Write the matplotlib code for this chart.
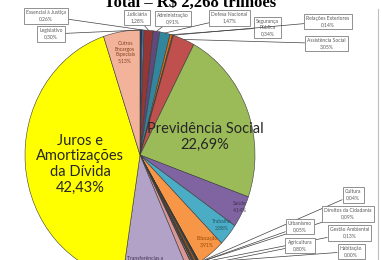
import numpy as np
import matplotlib
matplotlib.use("Agg")
import matplotlib.pyplot as plt

# slices, clockwise from 12 o'clock (Excel order)
nomes = ["Legislativo", "Essencial à Justiça", "Judiciária", "Administração",
         "Defesa Nacional", "Segurança\nPública", "Relações Exteriores",
         "Assistência Social", "Previdência Social", "Saúde", "Trabalho",
         "Educação", "Cultura", "Direitos da Cidadania", "Urbanismo",
         "Habitação", "Gestão Ambiental", "Ciência e Tecnologia",
         "Organização Agrária", "Indústria", "Comércio e Serviços",
         "Comunicações", "Energia", "Transporte", "Desporto e Lazer",
         "Saneamento", "Agricultura", "Transferências a\nEstados e Municípios",
         "Juros e\nAmortizações\nda Dívida", "Outros\nEncargos\nEspeciais"]
valores = [0.30, 0.26, 1.28, 0.91, 1.47, 0.34, 0.14, 3.05, 22.69, 4.14, 2.88,
           3.91, 0.04, 0.09, 0.05, 0.00, 0.13, 0.25, 0.10, 0.07, 0.10, 0.03,
           0.03, 0.17, 0.02, 0.01, 0.80, 9.18, 42.43, 5.13]
cores = ["#1F3864", "#4F81BD", "#953735", "#604A7B", "#31859C", "#E46C0A",
         "#4F6228", "#C0504D", "#9BBB59", "#8064A2", "#4BACC6", "#F79646",
         "#2C4D75", "#772C2A", "#5F7530", "#4D3B62", "#276A7C", "#B65708",
         "#729ACA", "#CD7371", "#AFC97A", "#9983B5", "#6FBDD1", "#F9AB6B",
         "#3A5F8D", "#8E3836", "#D99694", "#B3A2C7", "#FFFF00", "#F2B39A"]

W, H = 381, 260


def pct(v):
    return ("%.2f%%" % v).replace(".", ",")


def fig_frac(x, y):
    # pixel coords (origin top-left) -> figure fraction
    return x / W, 1 - y / H


fig = plt.figure(figsize=(W / 100, H / 100), dpi=100)
fig.patch.set_facecolor("white")
plt.rcParams["font.family"] = ["Lato", "DejaVu Sans"]

# pie area: ellipse centre (140,155), rx 115, ry 125 px
cx, cy, rx, ry = 140, 155, 115, 125
ax = fig.add_axes([(cx - rx) / W, (H - cy - ry) / H, 2 * rx / W, 2 * ry / H])
cunhas, _ = ax.pie(valores, colors=cores, startangle=90, counterclock=False,
                   wedgeprops=dict(edgecolor="#3a3a3a", linewidth=0.4))
ax.set_aspect("auto")
ax.set_xlim(-1, 1)
ax.set_ylim(-1, 1)
ax.axis("off")


def ponto(i, r=1.0):
    w = cunhas[i]
    ang = np.deg2rad((w.theta1 + w.theta2) / 2)
    return r * np.cos(ang), r * np.sin(ang)


# labels in boxes with leader lines: index -> box centre in pixels
caixas = {1: (46, 16), 0: (51, 34), 2: (137, 17.5), 3: (173, 18.5),
          4: (229.5, 18), 5: (267.5, 27.5), 6: (328, 21.5), 7: (326.5, 43.5),
          12: (353, 195), 13: (347.5, 214), 14: (300, 226.5),
          16: (349.5, 233), 26: (300, 245.5), 15: (351, 251.5)}
for i, (bx, by) in caixas.items():
    ax.annotate(nomes[i] + "\n" + pct(valores[i]), xy=ponto(i),
                xytext=(bx, H - by), textcoords="figure pixels",
                ha="center", va="center", fontsize=3.6, color="#595959",
                linespacing=1.3, annotation_clip=False,
                bbox=dict(boxstyle="square,pad=0.45", fc="white",
                          ec="#7f7f7f", lw=0.6),
                arrowprops=dict(arrowstyle="-", color="#404040", lw=0.5,
                                shrinkA=0, shrinkB=0))

# labels inside slices: index -> (x, y, size, colour)
internos = {28: (80, 164, 10.5, "#262626"), 8: (205, 137, 10.5, "#262626"),
            29: (125, 52, 3.6, "#7F3F1F"), 9: (240, 206.5, 3.6, "#3F3151"),
            10: (222, 224.5, 3.6, "#215968"), 11: (207, 241.5, 3.6, "#974706"),
            27: (145, 264, 3.6, "#3F3151")}
for i, (x, y, s, c) in internos.items():
    fx, fy = fig_frac(x, y)
    fig.text(fx, fy, nomes[i] + "\n" + pct(valores[i]), ha="center",
             va="center", fontsize=s, color=c, linespacing=1.15)

# title (cut at the top in the reference)
fx, fy = fig_frac(190, 7)
fig.text(fx, fy, "Total – R$ 2,268 trilhões", ha="center", va="baseline",
         fontsize=12, fontweight="bold", family="Liberation Serif")

# right border of the original frame
fig.add_artist(plt.Line2D([378 / W, 378 / W], [0, 1 - 9 / H],
                          color="#bfbfbf", lw=0.8))

fig.savefig("out.png", dpi=100)
